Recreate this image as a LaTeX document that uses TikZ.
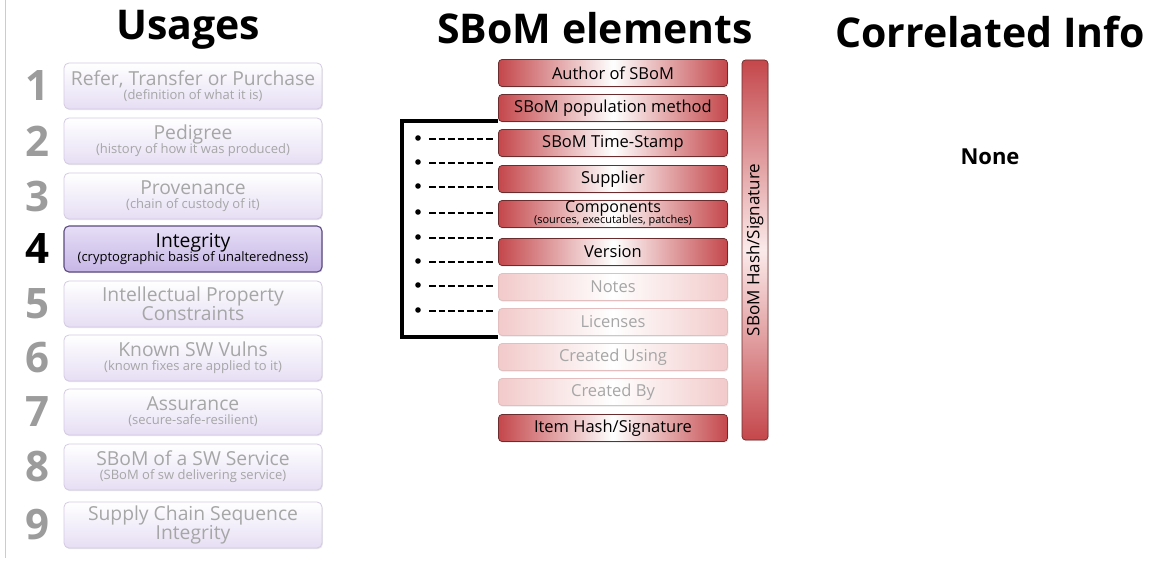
\documentclass[tikz,border=0pt]{standalone}
\usepackage{fontspec}
\setmainfont{Open Sans}
\usetikzlibrary{shadows}
\definecolor{lavbot}{HTML}{E6DEF4}
\definecolor{lavedge}{HTML}{D4CAE4}
\definecolor{seltop}{HTML}{E6DEF6}
\definecolor{selbot}{HTML}{C6B6E6}
\definecolor{seledge}{HTML}{5C4A80}
\definecolor{fadetext}{HTML}{A6A6A6}
\definecolor{numgray}{HTML}{9C9C9C}
\definecolor{redc}{HTML}{C4474B}
\definecolor{rededge}{HTML}{6A2C2C}
\definecolor{pinkc}{HTML}{F2CACA}
\definecolor{pinkedge}{HTML}{E2BEBE}
\definecolor{barmid}{HTML}{FBEAEA}
\newcommand\tightlines{\lineskiplimit-20pt\relax}
\newcommand\mainline[1]{{\fontsize{19.3}{13.5}\selectfont #1}}
\tikzset{
  shad/.style={drop shadow={opacity=0.18, shadow xshift=0.8pt, shadow yshift=-1.2pt}},
  usebox/.style={shad, draw=lavedge, line width=0.8pt, rounded corners=5pt, minimum width=258pt, minimum height=46pt,
    top color=white, bottom color=lavbot, align=center, text=fadetext, inner sep=0pt,
    font=\fontsize{13}{14}\selectfont\tightlines},
  selbox/.style={usebox, draw=seledge, line width=1.1pt, top color=seltop, bottom color=selbot, text=black},
  num/.style={text=numgray, font=\fontsize{42}{42}\selectfont\bfseries},
  el/.style={shad, draw=rededge, line width=0.7pt, rounded corners=3.5pt, minimum width=229pt, minimum height=27pt,
    left color=redc, right color=redc, middle color=white, align=center, inner sep=0pt,
    font=\fontsize{16.5}{16.5}\selectfont},
  elfade/.style={el, draw=pinkedge, left color=pinkc, right color=pinkc, middle color=white, text=fadetext},
  bar/.style={shad, draw=rededge, line width=0.7pt, rounded corners=3.5pt, minimum width=26pt, minimum height=380pt,
    top color=redc, bottom color=redc, middle color=barmid, inner sep=0pt},
  title/.style={font=\fontsize{41}{41}\selectfont\bfseries},
  bracket/.style={line width=3.5pt, line join=miter},
  dashline/.style={line width=2.6pt, dash pattern=on 6.5pt off 3pt},
}
\begin{document}
\begin{tikzpicture}[x=1pt,y=-1pt]
\useasboundingbox[fill=white] (0,0) rectangle (1151,569);
\draw[black!20, line width=0.8pt] (5,0) -- (5,558);
% titles
\node[title] (tu) at (188,30) {Usages};
\node[title] (te) at (595,28) {SBoM elements};
\node[title] (tc) at (990,32) {Correlated Info};
\node[font=\fontsize{22}{22}\selectfont\bfseries] (none) at (990,157) {None};
% usages
\node[usebox] (u1) at (193,86) {\mainline{Refer, Transfer or Purchase}\\(definition of what it is)};
\node[usebox] (u2) at (193,141) {\mainline{Pedigree}\\(history of how it was produced)};
\node[usebox] (u3) at (193,196) {\mainline{Provenance}\\(chain of custody of it)};
\node[selbox] (u4) at (193,249) {\mainline{Integrity}\\(cryptographic basis of unalteredness)};
\node[usebox] (u5) at (193,304) {\mainline{Intellectual Property}\\[5pt]\mainline{Constraints}};
\node[usebox] (u6) at (193,358) {\mainline{Known SW Vulns}\\(known fixes are applied to it)};
\node[usebox] (u7) at (193,412) {\mainline{Assurance}\\(secure-safe-resilient)};
\node[usebox] (u8) at (193,467) {\mainline{SBoM of a SW Service}\\(SBoM of sw delivering service)};
\node[usebox] (u9) at (193,525) {\mainline{Supply Chain Sequence}\\[5pt]\mainline{Integrity}};
\foreach \n/\y in {1/86,2/141,3/196,5/304,6/358,7/412,8/467,9/525}
  \node[num] (n\n) at (37,\y) {\n};
\node[num, text=black] (n4) at (37,249) {4};
% elements
\node[el] (e1) at (613,73) {Author of SBoM};
\node[el] (e2) at (613,108) {SBoM population method};
\node[el] (e3) at (613,143) {SBoM Time-Stamp};
\node[el] (e4) at (613,179) {Supplier};
\node[el, font=\fontsize{16}{11}\selectfont\tightlines] (e5) at (613,214) {Components\\{\fontsize{11}{11}\selectfont (sources, executables, patches)}};
\node[el] (e6) at (613,252) {Version};
\node[elfade] (e7) at (613,287) {Notes};
\node[elfade] (e8) at (613,322) {Licenses};
\node[elfade] (e9) at (613,357) {Created Using};
\node[elfade] (e10) at (613,392) {Created By};
\node[el] (e11) at (613,428) {Item Hash/Signature};
\node[bar] (bar) at (755,250) {};
\node[rotate=90, font=\fontsize{17}{17}\selectfont] (barlabel) at (bar.center) {SBoM Hash/Signature};
% bracket
\coordinate (bt) at (e3.west |- 0,121);
\coordinate (bb) at (e8.west |- 0,337);
\draw[bracket] (bt) -- ++(-96,0) |- (bb);
\foreach \i/\y in {1/138,2/162,3/186,4/212,5/237,6/261,7/285,8/310}{
  \fill (418,\y) circle (2.8pt);
  \coordinate (ds\i) at (429,\y+1);
  \coordinate (de\i) at (495,\y+1);
  \draw[dashline] (ds\i) -- (de\i);
}
\end{tikzpicture}
\end{document}
